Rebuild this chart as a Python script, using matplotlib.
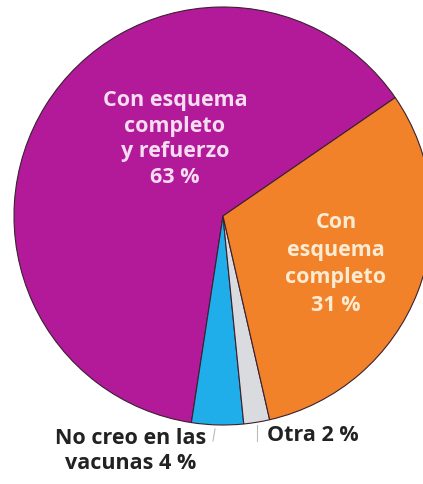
import matplotlib
matplotlib.use("Agg")
import matplotlib.pyplot as plt

categories = ["Con esquema\ncompleto\ny refuerzo", "No creo en las\nvacunas", "Otra", "Con\nesquema\ncompleto"]
values = [63, 4, 2, 31]
colors = ["#B31A9A", "#1FAEEA", "#D9DBDE", "#F2822A"]

W, H = 423, 485
fig = plt.figure(figsize=(W / 100, H / 100), dpi=100)
ax = fig.add_axes([0, 0, 1, 1])

cx, cy, r = 223, H - 217, 209
wedges, _ = ax.pie(values, colors=colors, startangle=34.5, counterclock=True,
                   center=(cx, cy), radius=r, frame=True,
                   wedgeprops=dict(edgecolor="#3a2030", linewidth=0.8))
ax.set_xlim(0, W)
ax.set_ylim(0, H)
ax.set_aspect("equal")
ax.axis("off")

font = "Open Sans"
fs = 15.5
ax.text(175, H - 139, f"{categories[0]}\n{values[0]} %", ha="center", va="center",
        color="#F6DDF1", fontsize=fs, fontweight="bold", family=font, linespacing=1.31)
ax.text(336, H - 264, f"{categories[3]}\n{values[3]} %", ha="center", va="center",
        color="#FCEBD3", fontsize=fs, fontweight="bold", family=font, linespacing=1.40)
lab1 = categories[1].split("\n")
ax.text(131, H - 451, f"{lab1[0]}\n{lab1[1]} {values[1]} %", ha="center", va="center",
        color="#222222", fontsize=fs, fontweight="bold", family=font, linespacing=1.30)
ax.text(267, H - 436, f"{categories[2]} {values[2]} %", ha="left", va="center",
        color="#222222", fontsize=fs, fontweight="bold", family=font)

# leader ticks
ax.plot([215, 213], [H - 430, H - 442], color="#bbbbbb", lw=0.8)
ax.plot([257, 257], [H - 426, H - 442], color="#bbbbbb", lw=0.8)

fig.savefig("out.png", dpi=100)
